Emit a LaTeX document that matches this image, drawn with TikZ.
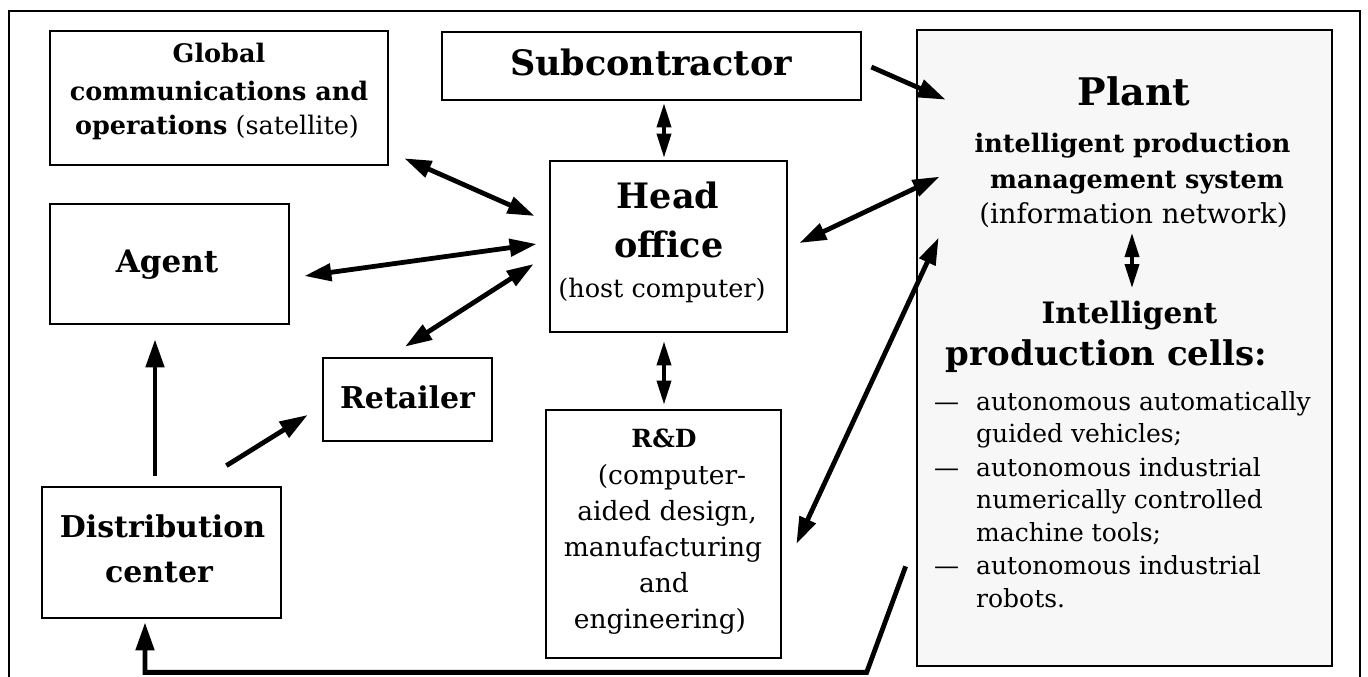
\documentclass[tikz,border=0pt]{standalone}
\usepackage{fontspec}
\setmainfont{DejaVu Serif}
\usetikzlibrary{arrows.meta,calc}
\newcommand\fsz[1]{\fontsize{#1pt}{#1pt}\selectfont}

\begin{document}
\begin{tikzpicture}[x=1pt,y=-1pt,
  box/.style={draw,line width=2.7pt,inner sep=0pt},
  txt/.style={inner sep=0pt,anchor=base},
  ltxt/.style={inner sep=0pt,anchor=base west,font=\fsz{25}},
  one/.style={line width=4.8pt,-{Triangle[length=28pt,width=18pt]}},
  dbl/.style={line width=4.8pt,{Triangle[length=27pt,width=17pt]}-{Triangle[length=27pt,width=17pt]}},
  short/.style={line width=3.6pt,{Triangle[length=24pt,width=14pt]}-{Triangle[length=24pt,width=14pt]}}]

\useasboundingbox (0,0) rectangle (1368,677);
% outer frame, open at the bottom edge
\draw[line width=2.2pt] (9,677) -- (9,11) -- (1360,11) -- (1360,677);

% boxes
\node[box,minimum width=338pt,minimum height=134pt] (glob) at (219,98) {};
\node[box,minimum width=419pt,minimum height=68pt] (sub) at (651.5,66) {};
\node[box,fill=black!3,minimum width=415pt,minimum height=636pt] (plant) at (1124.5,348) {};
\node[box,minimum width=237pt,minimum height=171pt] (head) at (668.5,246.5) {};
\node[box,minimum width=239pt,minimum height=120pt] (agent) at (169.5,264) {};
\node[box,minimum width=169pt,minimum height=83pt] (ret) at (407.5,399.5) {};
\node[box,minimum width=235pt,minimum height=248pt] (rd) at (663.5,534) {};
\node[box,minimum width=239pt,minimum height=131pt] (dist) at (161.5,552.5) {};

% labels
\node[txt,font=\bfseries\fsz{25.5}] (glob-a) at (219,63) {Global};
\node[txt,font=\bfseries\fsz{25.5}] (glob-b) at (219,100) {communications and};
\node[txt,font=\fsz{25.5}] (glob-c) at (217,134) {\textbf{operations} (satellite)};

\node[txt,font=\bfseries\fsz{35}] (sub-t) at (651,75) {Subcontractor};
\node[txt,font=\bfseries\fsz{31}] (agent-t) at (167,272) {Agent};

\node[txt,font=\bfseries\fsz{35}] (head-a) at (668,208) {Head};
\node[txt,font=\bfseries\fsz{35}] (head-b) at (669,257) {office};
\node[txt,font=\fsz{25.5}] (head-c) at (662,297) {(host computer)};

\node[txt,font=\bfseries\fsz{30}] (ret-t) at (407.5,408) {Retailer};

\node[txt,font=\bfseries\fsz{25}] (rd-a) at (664,447) {R\&D};
\node[txt,font=\fsz{26.5}] (rd-b) at (672,484) {(computer-};
\node[txt,font=\fsz{26.5}] (rd-c) at (667,520) {aided design,};
\node[txt,font=\fsz{26.5}] (rd-d) at (663,556) {manufacturing};
\node[txt,font=\fsz{26.5}] (rd-e) at (664,592) {and};
\node[txt,font=\fsz{26.5}] (rd-f) at (660,628) {engineering)};

\node[txt,font=\bfseries\fsz{30}] (dist-a) at (162.5,537) {Distribution};
\node[txt,font=\bfseries\fsz{30}] (dist-b) at (159,582) {center};

\node[txt,font=\bfseries\fsz{38}] (plant-a) at (1134,105) {Plant};
\node[txt,font=\bfseries\fsz{25.5}] (plant-b) at (1132.5,152) {intelligent production};
\node[txt,font=\bfseries\fsz{25.5}] (plant-c) at (1137,188) {management system};
\node[txt,font=\fsz{27.5}] (plant-d) at (1133.5,223) {(information network)};
\node[txt,font=\bfseries\fsz{29.5}] (cells-a) at (1129.5,323) {Intelligent};
\node[txt,font=\bfseries\fsz{34}] (cells-b) at (1106.5,365) {production cells:};

\node[ltxt] (l1) at (934,410) {\makebox[42pt][l]{—}autonomous automatically};
\node[ltxt] (l2) at (976,442) {guided vehicles;};
\node[ltxt] (l3) at (934,476) {\makebox[42pt][l]{—}autonomous industrial};
\node[ltxt] (l4) at (976,508) {numerically controlled};
\node[ltxt] (l5) at (976,541) {machine tools;};
\node[ltxt] (l6) at (934,574) {\makebox[42pt][l]{—}autonomous industrial};
\node[ltxt] (l7) at (976,607) {robots.};

% connectors
\draw[one] ($(sub.east)+(9,1)$) -- ($(plant.north west)+(30,71)$);
\draw[short] ($(sub.south)+(12.5,2)$) -- ($(head.north)+(-4.5,-2)$);
\draw[dbl] ($(glob.south east)+(15,-8)$) -- ($(head.west)+(-14,-30.5)$);
\draw[dbl] ($(agent.east)+(14,12)$) -- ($(head.west)+(-12,-2.5)$);
\draw[dbl] ($(ret.north)+(-2.5,-10)$) -- ($(head.west)+(-15,17.5)$);
\draw[dbl] ($(head.east)+(11,-3.5)$) -- ($(plant.north west)+(24,148)$);
\draw[dbl] ($(rd.east)+(14,10)$) -- ($(plant.north west)+(23,209)$);
\draw[short] ($(head.south)+(-4.5,8)$) -- ($(rd.north)+(0.5,-4)$);
\draw[short] ($(plant-d.base)+(-1.5,10)$) -- ($(cells-a.base)+(2.5,-35)$);
\draw[one] ($(dist.north)+(-6.5,-10)$) -- ($(agent.south)+(-14.5,14)$);
\draw[one] ($(dist.north east)+(-56,-20)$) -- ($(ret.west)+(-14,15.5)$);
\draw[one] ($(plant.south west)+(-10,-101)$) -- ($(plant.south west)+(-49,5)$) -| ($(dist.south)+(-16.5,3)$);
\end{tikzpicture}
\end{document}
